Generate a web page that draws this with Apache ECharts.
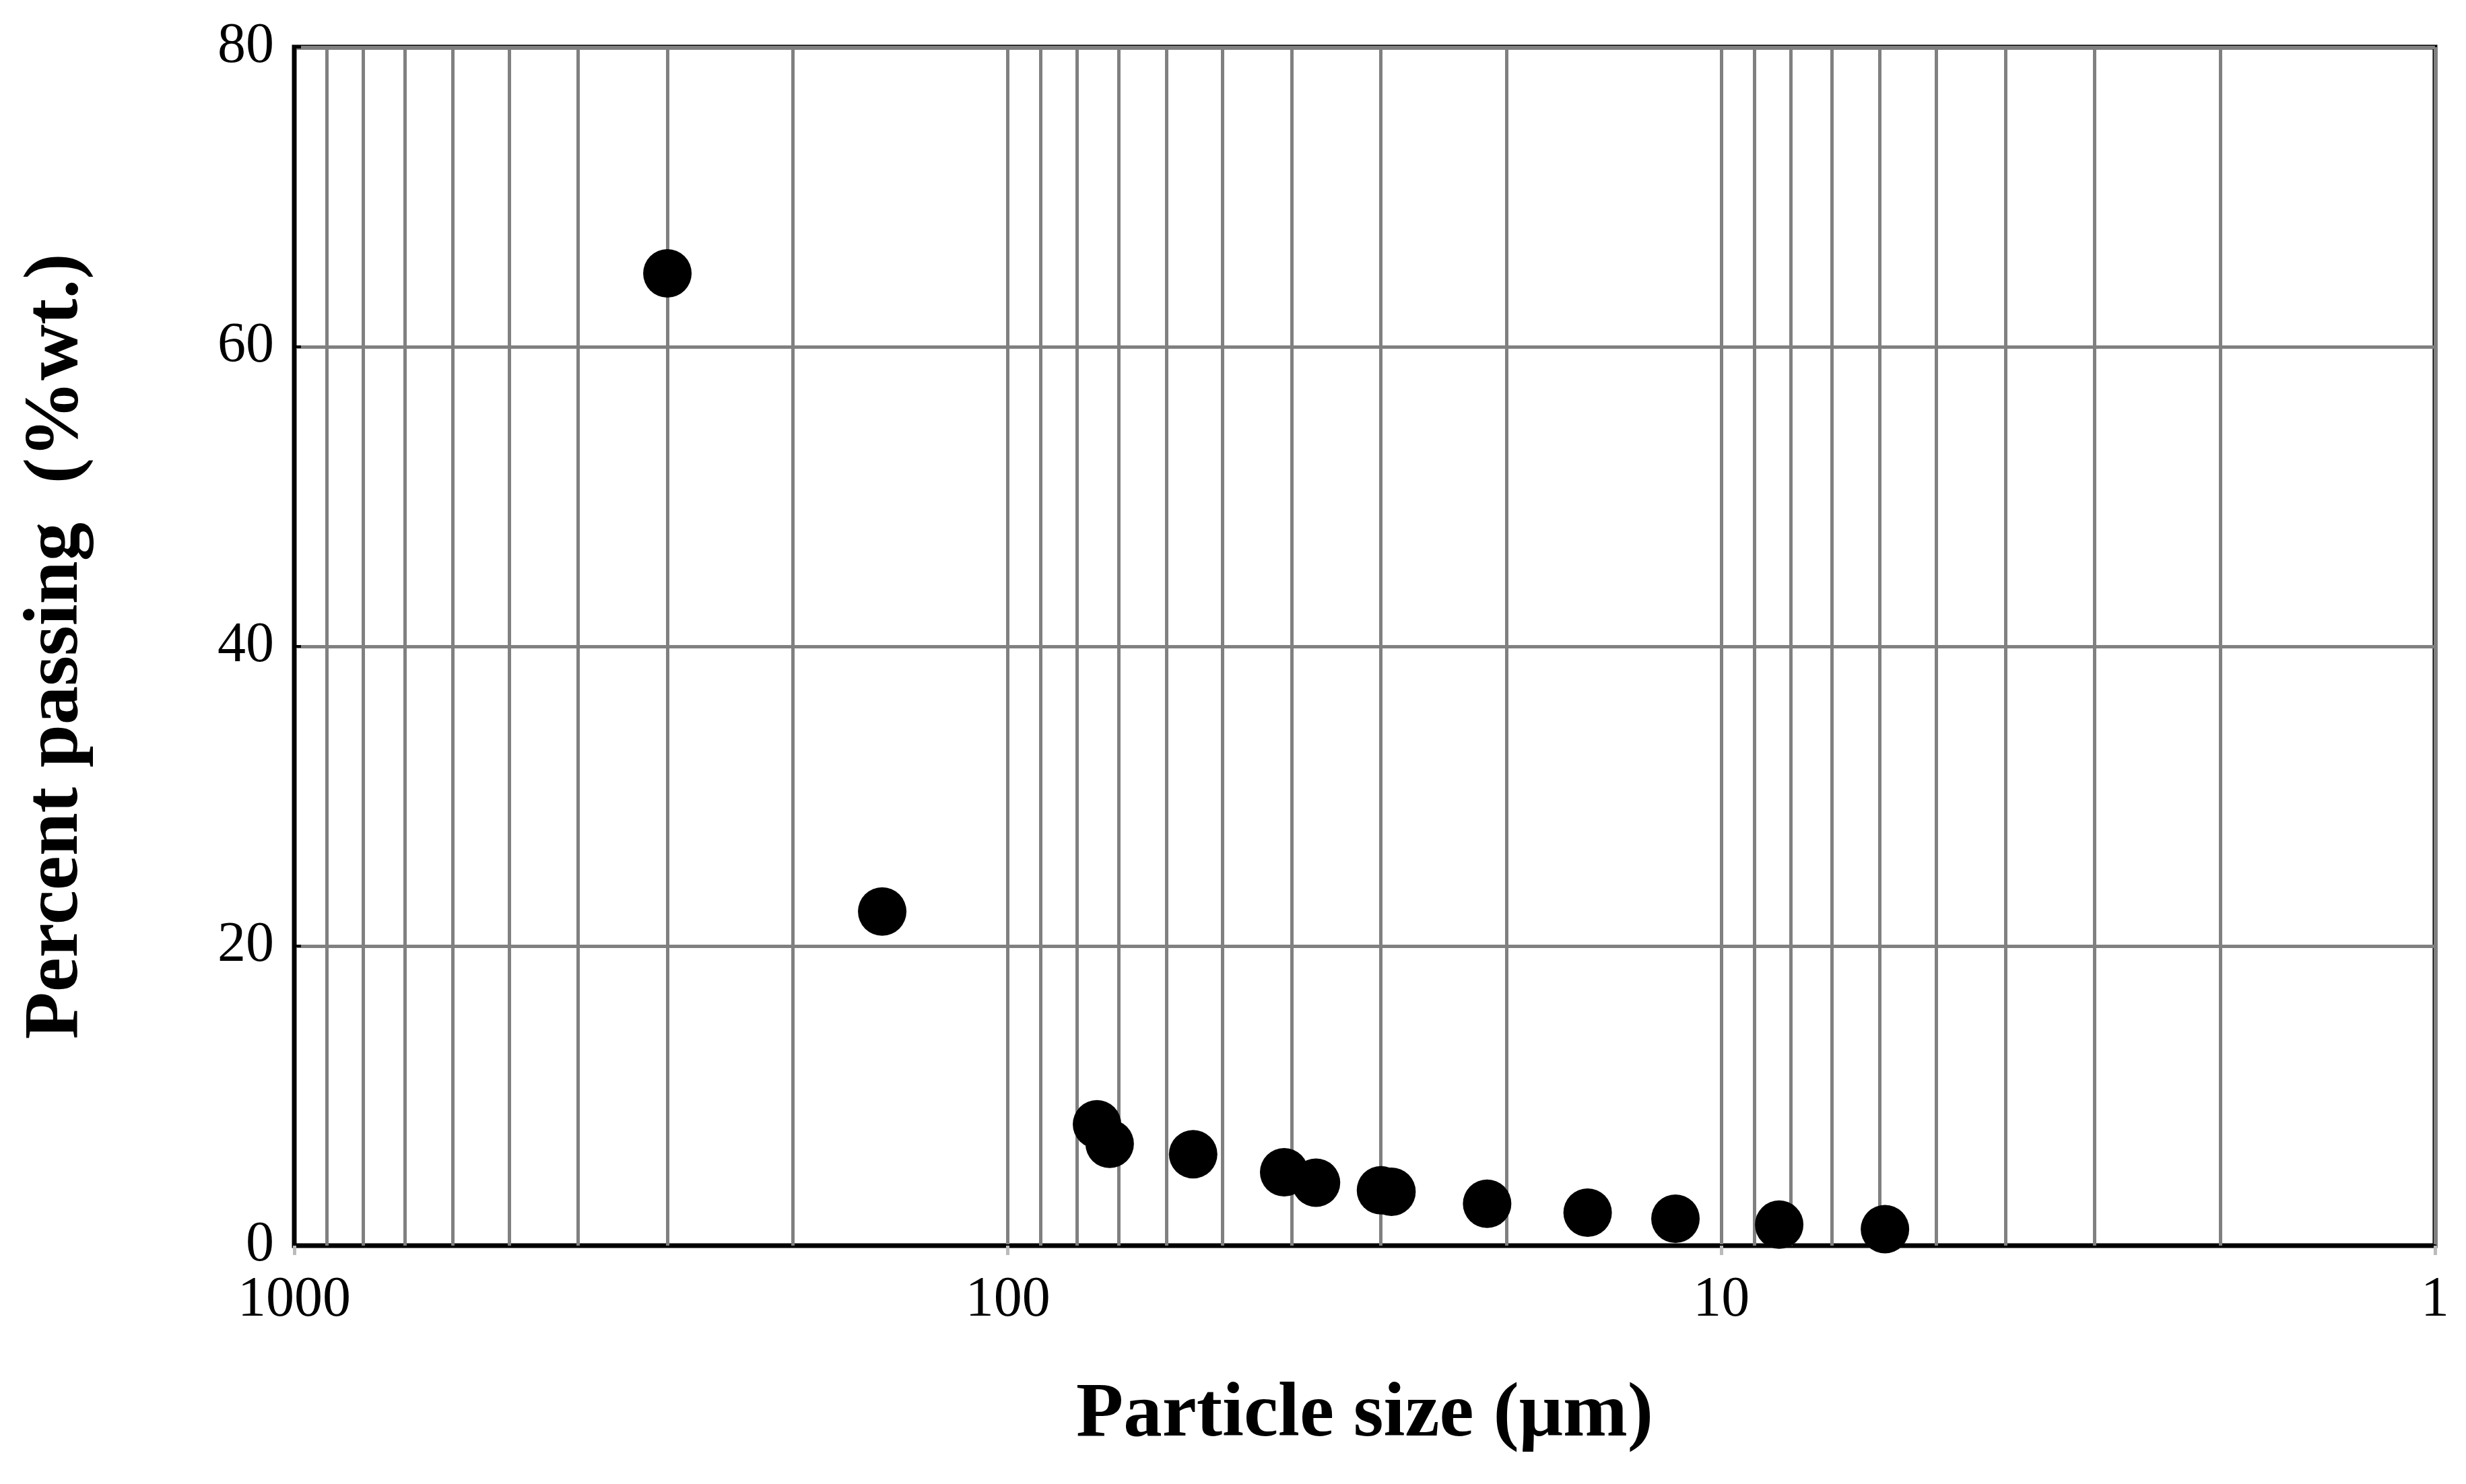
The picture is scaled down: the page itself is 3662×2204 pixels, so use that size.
<!DOCTYPE html>
<html>
<head>
<meta charset="utf-8">
<script src="https://cdn.jsdelivr.net/npm/echarts@6/dist/echarts.min.js"></script>
<style>html,body{margin:0;padding:0;background:#fff}#main{width:3662px;height:2204px}</style>
</head>
<body>
<div id="main"></div>
<script>
// particle size (um) and percent passing
const sizes = [300, 150, 75, 72, 55, 41, 37, 30, 29, 21.3, 15.4, 11.6, 8.3, 5.9];
const passing = [64.9, 22.3, 8.1, 6.8, 6.1, 4.9, 4.2, 3.7, 3.6, 2.8, 2.2, 1.8, 1.4, 1.1];
const decades = [1, 10, 100];
const minorSteps = [2, 3, 4, 5, 6, 7, 8, 9];

let points = [];
for (let i in sizes) {
    points.push([sizes[i], passing[i]]);
}

// minor grid lines inside each decade
let minorLines = [];
for (let d of decades) {
    for (let m of minorSteps) {
        minorLines.push({ xAxis: d * m });
    }
}

const font = 'Liberation Serif';
let chart = echarts.init(document.getElementById('main'));
chart.setOption({
    animation: false,
    grid: {
        left: 437, right: 46, top: 70, bottom: 354,
        show: true, borderColor: '#000', borderWidth: 7
    },
    xAxis: {
        type: 'log', logBase: 10, min: 1, max: 1000, inverse: true,
        name: 'Particle size (\u03bcm)', nameLocation: 'middle', nameGap: 195,
        nameTextStyle: { fontFamily: font, fontSize: 115, fontWeight: 'bold', color: '#000' },
        axisLine: { lineStyle: { color: '#000', width: 5 } },
        axisTick: { show: true, length: 14, lineStyle: { color: '#bbb', width: 5 } },
        axisLabel: { fontFamily: font, fontSize: 84, color: '#000', margin: 40,
            formatter: function (v) { return String(Math.round(v)); } },
        splitLine: { show: true, lineStyle: { color: '#808080', width: 5 } },
        minorTick: { show: false },
        minorSplitLine: { show: false }
    },
    yAxis: {
        type: 'value', min: 0, max: 80, interval: 20,
        name: 'Percent passing  (%wt.)', nameLocation: 'middle', nameGap: 295,
        nameTextStyle: { fontFamily: font, fontSize: 115, fontWeight: 'bold', color: '#000' },
        axisLine: { show: true, lineStyle: { color: '#000', width: 5 } },
        axisTick: { show: true, inside: true, length: 10, lineStyle: { color: '#000', width: 4 } },
        axisLabel: { fontFamily: font, fontSize: 84, color: '#000', margin: 30 },
        splitLine: { show: true, lineStyle: { color: '#808080', width: 5 } }
    },
    series: [
        {
            type: 'scatter',
            data: points,
            symbol: 'circle',
            symbolSize: 72,
            itemStyle: { color: '#000', opacity: 1 },
            z: 5,
            markLine: {
                silent: true,
                symbol: ['none', 'none'],
                label: { show: false },
                lineStyle: { color: '#808080', width: 5, type: 'solid' },
                data: minorLines,
                z: 1
            }
        }
    ]
});
</script>
</body>
</html>
